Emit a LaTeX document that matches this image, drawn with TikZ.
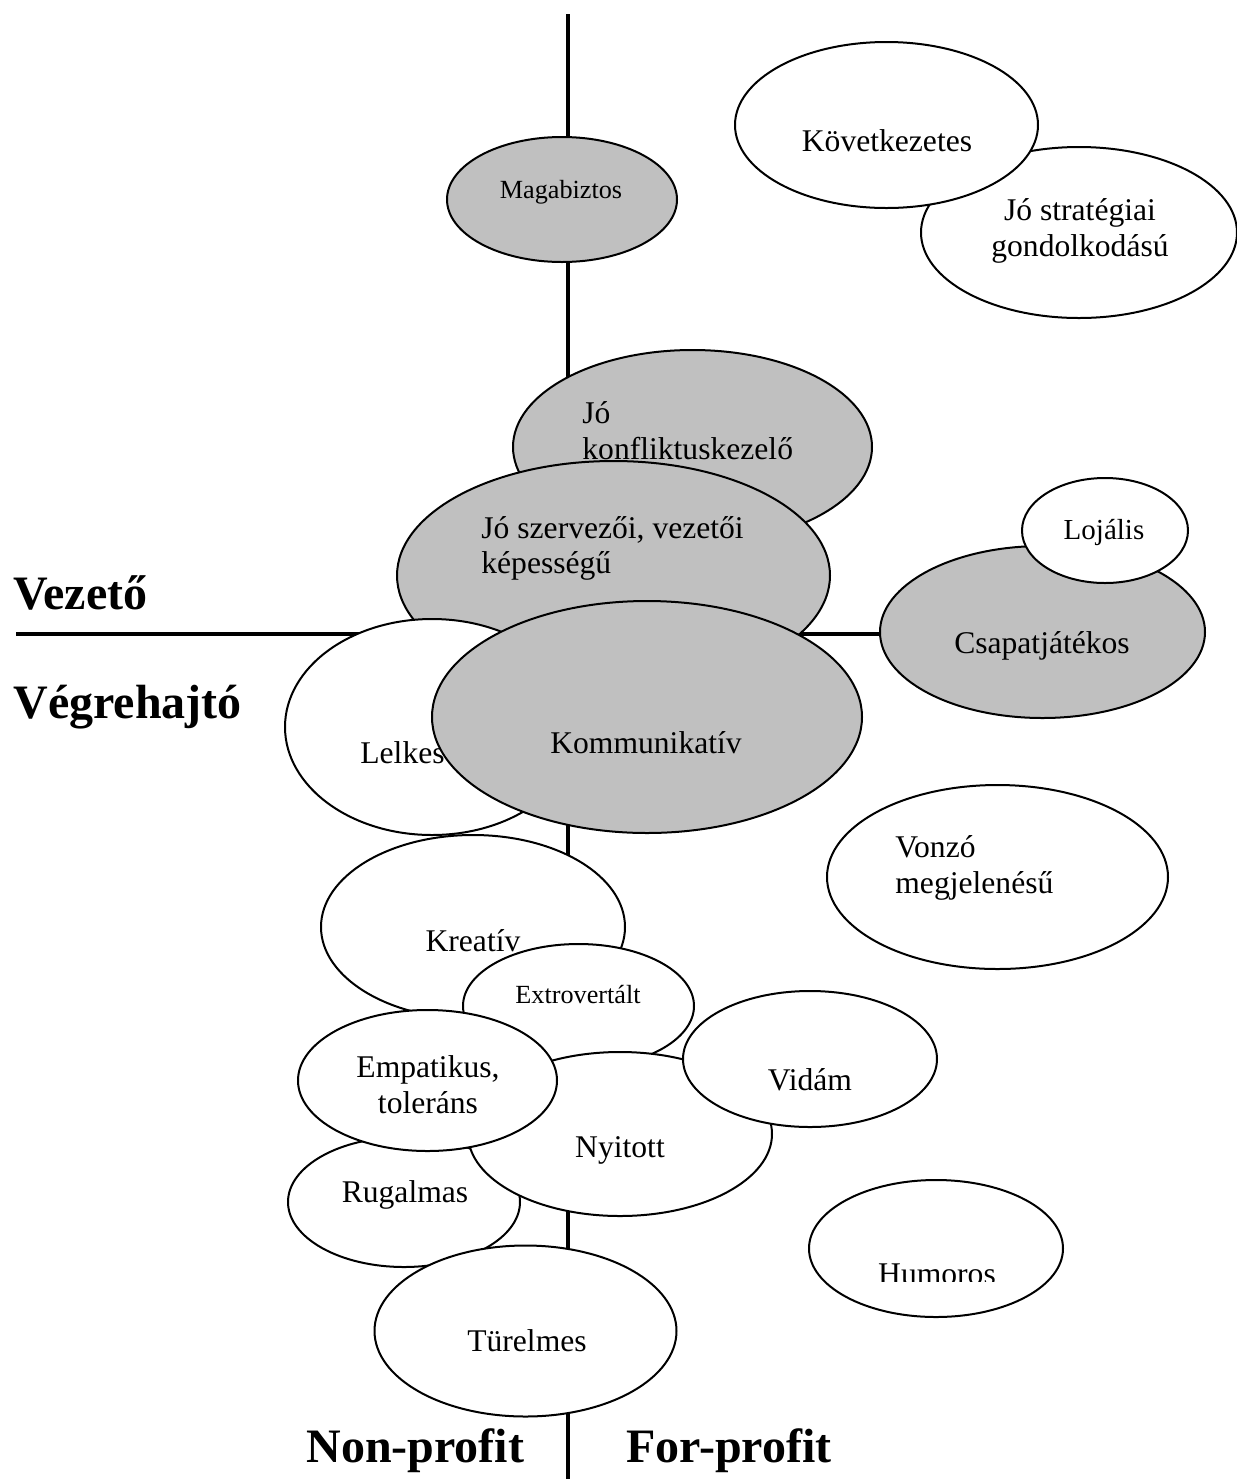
\documentclass[tikz,border=0pt]{standalone}
\usepackage{fontspec}
\setmainfont{Liberation Serif}
\usetikzlibrary{shapes.geometric}
\definecolor{ovgray}{RGB}{192,192,192}
\tikzset{
  ov/.style={ellipse, draw=black, line width=1pt, fill=white, inner sep=0pt, outer sep=0pt},
  gov/.style={ov, fill=ovgray},
  lab/.style={anchor=base, inner sep=0pt, font=\fontsize{15.8}{19}\selectfont},
  llab/.style={lab, anchor=base west},
  slab/.style={anchor=base, inner sep=0pt, font=\fontsize{13.1}{16}\selectfont},
  big/.style={anchor=base west, inner sep=0pt, font=\fontsize{24}{28}\selectfont\bfseries},
  bigc/.style={big, anchor=base},
  axisline/.style={line width=2pt}
}
\begin{document}
\begin{tikzpicture}[x=0.5pt,y=-0.5pt]
\useasboundingbox (0,0) rectangle (1237,1479);
% axes
\coordinate (vtop) at (568,14);
\coordinate (vbot) at (568,1479);
\coordinate (hleft) at (16,634);
\coordinate (hright) at (1000,634);
\draw[axisline] (vtop) -- (vbot);
\draw[axisline] (hleft) -- (hright);

% Magabiztos
\node[gov, minimum width=115pt, minimum height=62.5pt] (magab) at (562,199.5) {};
\node[slab] (magabt) at (561,198) {Magabiztos};

% Jo strategiai
\node[ov, minimum width=158pt, minimum height=85.5pt] (strat) at (1079,232.5) {};
\node[lab] (strat1) at (1080,220) {Jó stratégiai};
\node[lab] (strat2) at (1080,256) {gondolkodású};

% Kovetkezetes
\node[ov, minimum width=151.5pt, minimum height=83pt] (kovet) at (886.5,125) {};
\node[lab] (kovett) at (887,151) {Következetes};

% Jo konfliktuskezelo
\node[gov, minimum width=179.5pt, minimum height=97pt] (konf) at (692.5,447) {};
\node[llab] (konf1) at (582,423) {Jó};
\node[llab] (konf2) at (582,459) {konfliktuskezelő};

% Jo szervezoi
\node[gov, minimum width=216.5pt, minimum height=114.5pt] (szerv) at (613.5,575.5) {};
\node[llab] (szerv1) at (481,538) {Jó szervezői, vezetői};
\node[llab] (szerv2) at (481,573) {képességű};

% Lelkes
\node[ov, minimum width=147pt, minimum height=108pt] (lelkes) at (432,727) {};
\node[llab] (lelkest) at (360,763) {Lelkes};

% Kommunikativ
\node[gov, minimum width=215pt, minimum height=116pt] (komm) at (647,717) {};
\node[lab] (kommt) at (646,753) {Kommunikatív};

% Csapatjatekos
\node[gov, minimum width=162.5pt, minimum height=86pt] (csapat) at (1042.5,632) {};
\node[lab] (csapatt) at (1042,653) {Csapatjátékos};

% Lojalis
\node[ov, minimum width=83pt, minimum height=52.5pt] (lojal) at (1105,530.5) {};
\node[lab, font=\fontsize{14.5}{17}\selectfont] (lojalt) at (1104,539) {Lojális};

% Vonzo megjelenesu
\node[ov, minimum width=170.5pt, minimum height=92pt] (vonzo) at (997.5,877) {};
\node[llab] (vonzo1) at (895,857) {Vonzó};
\node[llab] (vonzo2) at (895,893) {megjelenésű};

% Kreativ
\node[ov, minimum width=152pt, minimum height=92pt] (kreat) at (473,927) {};
\node[lab] (kreatt) at (473,951) {Kreatív};

% Extrovertalt
\node[ov, minimum width=115.5pt, minimum height=62pt] (extro) at (578.5,1006) {};
\node[slab] (extrot) at (578,1003) {Extrovertált};

% Rugalmas
\node[ov, minimum width=116pt, minimum height=65pt] (rugal) at (404,1202) {};
\node[lab] (rugalt) at (405,1202) {Rugalmas};

% Nyitott
\node[ov, minimum width=152pt, minimum height=82pt] (nyit) at (620,1134) {};
\node[lab] (nyitt) at (620,1157) {Nyitott};

% Vidam
\node[ov, minimum width=127pt, minimum height=68pt] (vidam) at (810,1059) {};
\node[lab] (vidamt) at (810,1090) {Vidám};

% Empatikus, tolerans
\node[ov, minimum width=129.5pt, minimum height=70.5pt] (empat) at (427.5,1080.5) {};
\node[lab] (empat1) at (428,1077) {Empatikus,};
\node[lab] (empat2) at (428,1113) {toleráns};

% Turelmes
\node[ov, minimum width=151pt, minimum height=85.5pt] (turel) at (525.5,1331) {};
\node[lab] (turelt) at (527,1351) {Türelmes};

% Humoros
\node[ov, minimum width=127pt, minimum height=68.5pt] (humor) at (936,1248.5) {};
\begin{scope}
  \clip (800,1180) rectangle (1080,1281);
  \node[lab] (humort) at (937,1284) {Humoros};
\end{scope}

% axis labels
\node[big] (vezeto) at (13,609) {Vezető};
\node[big] (vegreh) at (13,718) {Végrehajtó};
\node[big] (nonpr) at (306,1462) {Non-profit};
\node[big] (forpr) at (626,1462) {For-profit};
\end{tikzpicture}
\end{document}
